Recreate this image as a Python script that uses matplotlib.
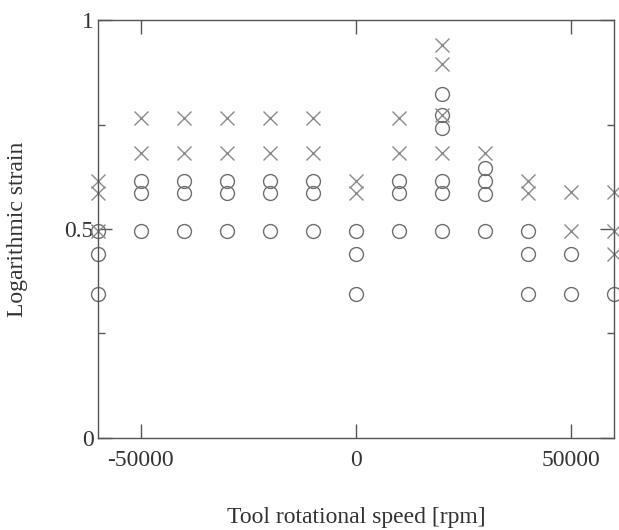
import matplotlib
matplotlib.use("Agg")
import matplotlib.pyplot as plt
from matplotlib.ticker import MultipleLocator

# tool rotational speed [rpm] and logarithmic strain
cross_x = [-60000, -60000, -60000,
           -50000, -50000, -40000, -40000, -30000, -30000,
           -20000, -20000, -10000, -10000,
           0, 0,
           10000, 10000,
           20000, 20000, 20000, 20000,
           30000,
           40000, 40000,
           50000, 50000,
           60000, 60000, 60000]
cross_y = [0.615, 0.586, 0.495,
           0.766, 0.682, 0.766, 0.682, 0.766, 0.682,
           0.766, 0.682, 0.766, 0.682,
           0.615, 0.586,
           0.766, 0.682,
           0.940, 0.895, 0.772, 0.682,
           0.682,
           0.615, 0.586,
           0.589, 0.495,
           0.589, 0.495, 0.440]

circle_x = [-60000, -60000, -60000,
            -50000, -50000, -50000, -40000, -40000, -40000,
            -30000, -30000, -30000, -20000, -20000, -20000,
            -10000, -10000, -10000,
            0, 0, 0,
            10000, 10000, 10000,
            20000, 20000, 20000, 20000, 20000, 20000,
            30000, 30000, 30000, 30000,
            40000, 40000, 40000,
            50000, 50000,
            60000]
circle_y = [0.495, 0.440, 0.345,
            0.615, 0.586, 0.495, 0.615, 0.586, 0.495,
            0.615, 0.586, 0.495, 0.615, 0.586, 0.495,
            0.615, 0.586, 0.495,
            0.495, 0.440, 0.345,
            0.615, 0.586, 0.495,
            0.822, 0.772, 0.742, 0.615, 0.586, 0.495,
            0.646, 0.615, 0.584, 0.495,
            0.495, 0.440, 0.345,
            0.440, 0.345,
            0.345]

xticks = [-50000, 0, 50000]
yticks = [0, 0.5, 1]
ytick_labels = ["0", "0.5", "1"]

plt.rcParams['font.family'] = ['Liberation Serif', 'DejaVu Serif']

fig = plt.figure(figsize=(6.19, 5.30), dpi=100)
ax = fig.add_axes([0.158, 0.174, 0.834, 0.788])

ax.plot(circle_x, circle_y, linestyle='none', marker='o', ms=10,
        mfc='none', mec='#6e6e6e', mew=1.0, clip_on=False)
ax.plot(cross_x, cross_y, linestyle='none', marker='x', ms=9.5,
        mec='#8a8a8a', mew=1.0, clip_on=False)

ax.set_xlim(-60000, 60000)
ax.set_ylim(0, 1)
ax.set_xticks(xticks)
ax.set_xticklabels([str(v) for v in xticks])
ax.set_yticks(yticks)
ax.set_yticklabels(ytick_labels)
ax.yaxis.set_minor_locator(MultipleLocator(0.25))

ax.tick_params(which='both', direction='in', top=True, right=True,
               color='#555555', labelsize=17, labelcolor='#333333')
ax.tick_params(which='major', length=10, width=1, pad=9)
ax.tick_params(which='minor', length=5, width=1)
ax.tick_params(axis='y', pad=3)
for s in ax.spines.values():
    s.set_color('#555555')
    s.set_linewidth(1)

ax.set_xlabel('Tool rotational speed [rpm]', fontsize=17, color='#333333', labelpad=26)
ax.set_ylabel('Logarithmic strain', fontsize=17, color='#333333', labelpad=26)

fig.savefig('out.png', dpi=100)
